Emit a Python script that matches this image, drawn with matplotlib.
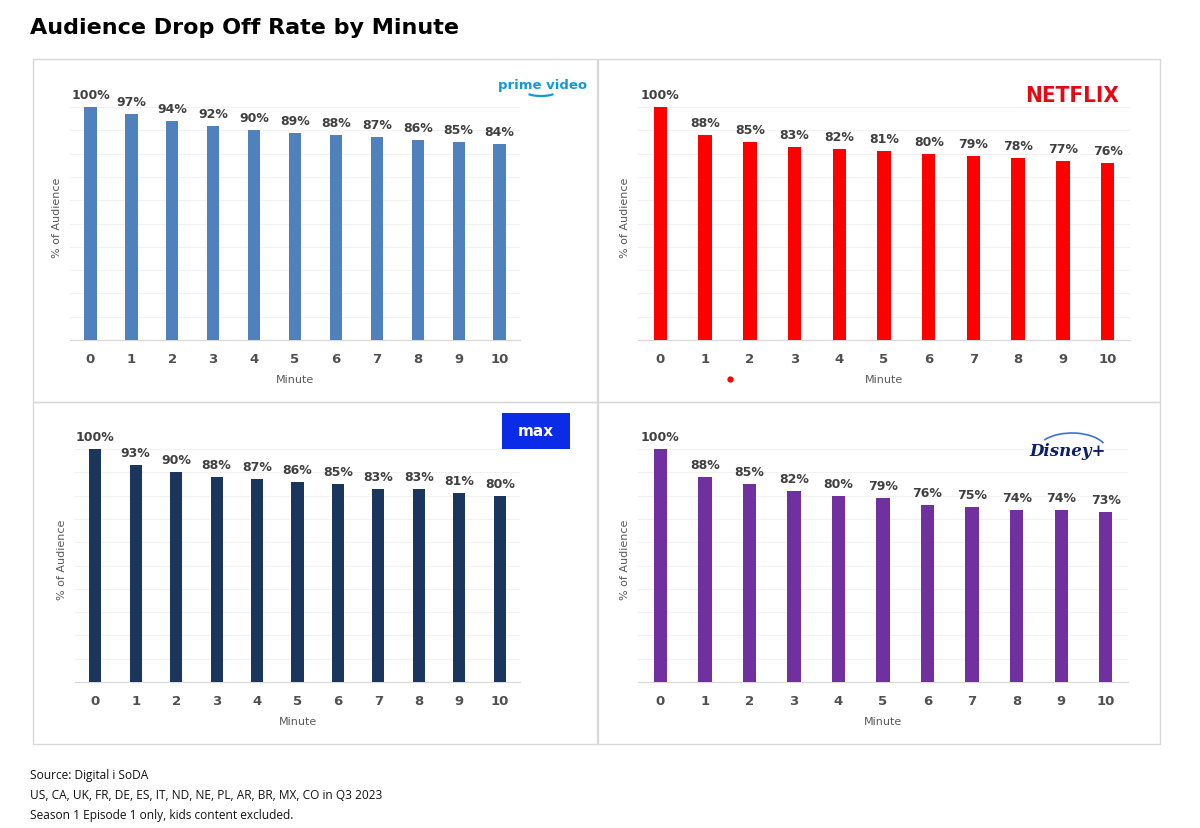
import matplotlib.pyplot as plt
from matplotlib.patches import Rectangle, Arc
from matplotlib.lines import Line2D

# --- Data ---
minutes = list(range(11))
prime = [100, 97, 94, 92, 90, 89, 88, 87, 86, 85, 84]
netflix = [100, 88, 85, 83, 82, 81, 80, 79, 78, 77, 76]
hbo_max = [100, 93, 90, 88, 87, 86, 85, 83, 83, 81, 80]
disney = [100, 88, 85, 82, 80, 79, 76, 75, 74, 74, 73]

W, H = 1200, 829
fig = plt.figure(figsize=(12, 8.29), dpi=100)


def fx(px):
    return px / W


def fy(py):
    return 1 - py / H


# panel frames (pixel boxes: x0, y0, x1, y1)
frames = [(33, 60, 597, 403), (598, 60, 1160, 403),
          (33, 403, 597, 745), (598, 403, 1160, 745)]
for x0, y0, x1, y1 in frames:
    fig.patches.append(Rectangle((fx(x0), fy(y1)), fx(x1 - x0), (y1 - y0) / H,
                                 transform=fig.transFigure, fill=False,
                                 edgecolor="#d9d9d9", linewidth=1))

# axes: left px, right px, baseline px
panels = [
    (prime, "#4f81bd", 70, 520, 341),
    (netflix, "#ff0000", 638, 1130, 341),
    (hbo_max, "#1b365d", 75, 520, 683),
    (disney, "#7030a0", 638, 1128, 683),
]
scale = 2.33  # px per percent
ytop = 106

axes = []
for vals, color, left, right, base in panels:
    top = base - ytop * scale
    ax = fig.add_axes([fx(left), fy(base), fx(right - left), (base - top) / H])
    ax.bar(minutes, vals, width=0.3, color=color, zorder=3)
    for m, v in zip(minutes, vals):
        ax.text(m, v + 2.5, f"{v}%", ha="center", va="bottom", fontsize=9,
                fontweight="bold", color="#404040")
    ax.set_xlim(-0.5, 10.5)
    ax.set_ylim(0, ytop)
    ax.set_yticks(range(0, 101, 10))
    ax.set_yticklabels([])
    ax.tick_params(axis="y", length=0)
    ax.tick_params(axis="x", length=0, pad=9, labelsize=9.5, labelcolor="#505050")
    ax.set_xticks(minutes)
    for lbl in ax.get_xticklabels():
        lbl.set_fontweight("bold")
    ax.grid(axis="y", color="#f2f2f2", linewidth=0.8, zorder=0)
    for s in ["top", "right", "left"]:
        ax.spines[s].set_visible(False)
    ax.spines["bottom"].set_color("#d9d9d9")
    ax.set_xlabel("Minute", fontsize=8, color="#595959", labelpad=6)
    ax.set_ylabel("% of Audience", fontsize=8, color="#595959", labelpad=2)
    axes.append(ax)

# --- logos (approximations) ---
fig.text(fx(543), fy(86), "prime video", ha="center", va="center", fontsize=9.5,
         fontweight="bold", color="#1399d6")
fig.patches.append(Arc((fx(541), fy(92)), fx(32), 10 / H, theta1=200, theta2=340,
                       transform=fig.transFigure, color="#1399d6", linewidth=1.6))
fig.text(fx(1072), fy(96), "NETFLIX", ha="center", va="center", fontsize=16,
         fontweight="bold", color="#e50914", fontstretch="condensed",
         family="Liberation Sans Narrow")
fig.patches.append(Rectangle((fx(502), fy(450)), fx(68), 36 / H,
                             transform=fig.transFigure, facecolor="#0a2ce6",
                             edgecolor="none"))
fig.text(fx(536), fy(432), "max", ha="center", va="center", fontsize=11,
         fontweight="bold", color="white")
fig.text(fx(1068), fy(452), "Disney+", ha="center", va="center", fontsize=12,
         fontweight="bold", fontstyle="italic", color="#0b1f6b", family="DejaVu Serif")
fig.patches.append(Arc((fx(1072), fy(452)), fx(70), 36 / H, theta1=20, theta2=150,
                       transform=fig.transFigure, color="#3f6fd8", linewidth=1.2))

# stray red dot in netflix panel
fig.lines.append(Line2D([fx(730)], [fy(380)], marker="o", markersize=3.5,
                        color="#ff0000", transform=fig.transFigure))

# --- title and notes ---
fig.text(fx(30), fy(28), "Audience Drop Off Rate by Minute", ha="left", va="center",
         fontsize=16, fontweight="heavy", color="black")
notes = ["Source: Digital i SoDA",
         "US, CA, UK, FR, DE, ES, IT, ND, NE, PL, AR, BR, MX, CO in Q3 2023",
         "Season 1 Episode 1 only, kids content excluded."]
for i, line in enumerate(notes):
    fig.text(fx(30), fy(776 + i * 20), line, ha="left", va="center", fontsize=8.6,
             family="Open Sans", color="#111111")

plt.savefig("out.png", dpi=100)
